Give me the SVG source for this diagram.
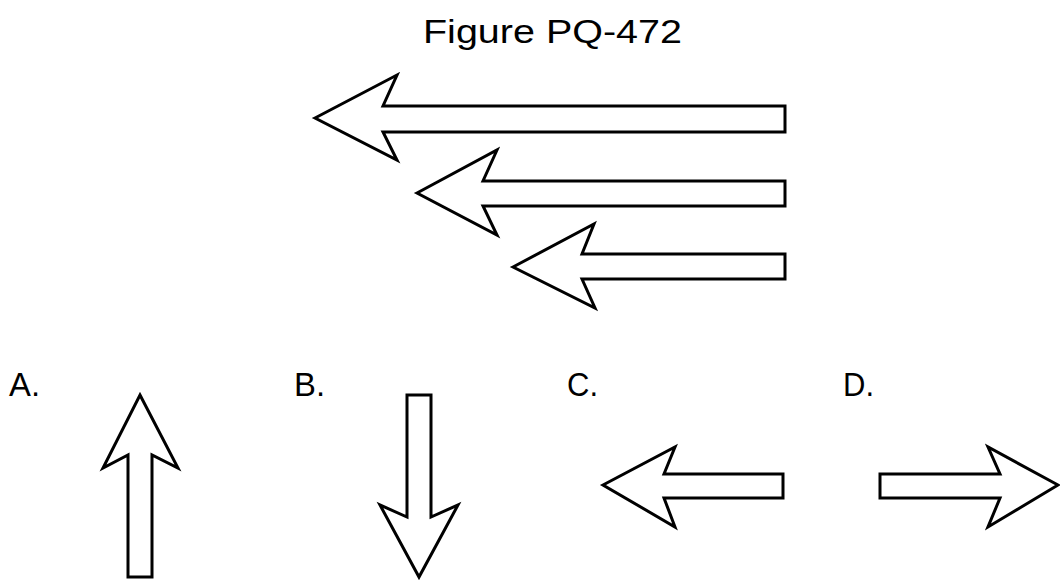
<svg xmlns="http://www.w3.org/2000/svg" width="1060" height="581" viewBox="0 0 1060 581">
<style>
.arr{fill:#fff;stroke:#000;stroke-width:3;stroke-linejoin:miter}
.lbl{font-family:"Liberation Sans",Arial,sans-serif;font-size:34px;fill:#000}
</style>
<rect width="1060" height="581" fill="#fff"/>
<text class="lbl" x="423" y="43" font-size="36" textLength="259" lengthAdjust="spacingAndGlyphs">Figure PQ-472</text>
<g id="figure">
<g id="arrow1"><polygon class="arr" points="315,118 397,75 383,106 785,106 785,132 383,132 397,160"/></g>
<g id="arrow2"><polygon class="arr" points="417,193 497,150 483,181 785,181 785,206 483,206 497,235"/></g>
<g id="arrow3"><polygon class="arr" points="513,267 594,224 582,254 785,254 785,279 582,279 595,308"/></g>
</g>
<g id="optionA">
<text class="lbl" x="9" y="396" textLength="31" lengthAdjust="spacingAndGlyphs">A.</text>
<polygon class="arr" points="140,395 178,468 152,455 152,577 128,577 128,455 103,468"/>
</g>
<g id="optionB">
<text class="lbl" x="294" y="396" textLength="31" lengthAdjust="spacingAndGlyphs">B.</text>
<polygon class="arr" points="407,395 431,395 431,517 458,505 419,577 380,505 407,517"/>
</g>
<g id="optionC">
<text class="lbl" x="567" y="396" textLength="31" lengthAdjust="spacingAndGlyphs">C.</text>
<polygon class="arr" points="603,485 675,447 664,474 783,474 783,498 664,498 675,527"/>
</g>
<g id="optionD">
<text class="lbl" x="843" y="396" textLength="31" lengthAdjust="spacingAndGlyphs">D.</text>
<polygon class="arr" points="1058,485 988,447 1000,474 880,474 880,498 1000,498 988,527"/>
</g>
<g id="connectors"/>
</svg>
